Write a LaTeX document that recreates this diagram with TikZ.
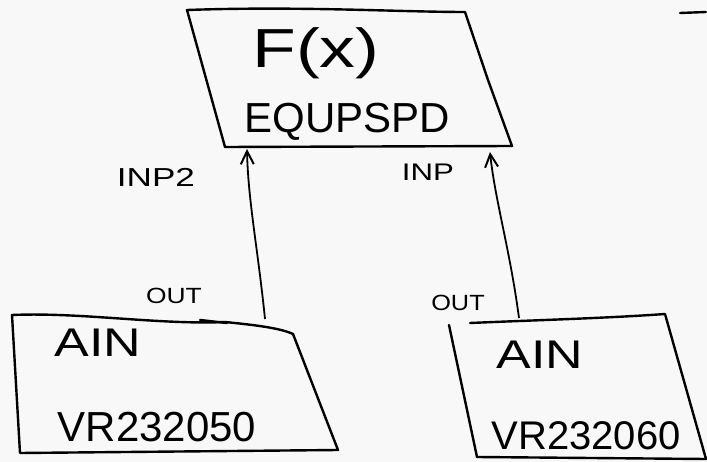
\documentclass[tikz,border=0pt]{standalone}
\usepackage{fontspec}
\setmainfont{Liberation Sans}
\usetikzlibrary{arrows.meta}
\definecolor{paper}{RGB}{248,248,248}
\tikzset{
  boxline/.style={line width=2.4pt, line join=round, line cap=round},
  conn/.style={line width=1.8pt, -{Straight Barb[length=13pt,width=13pt,line width=2pt]}},
  lbl/.style={inner sep=0pt, text=black},
}
\begin{document}
\begin{tikzpicture}[x=1pt,y=-1pt]
\fill[paper] (0,0) rectangle (707,462);
\useasboundingbox (0,0) rectangle (707,462);

% top box F(x)
\draw[boxline] (187,10) .. controls (300,6) and (400,12) .. (465,12)
  -- (488,80) -- (512,146) -- (225,147) -- cycle;
\draw[boxline] (680,13) -- (706,12);
\node[lbl, font=\fontsize{55}{60}\selectfont] (fx) at (316,53) {\scalebox{1.3}[1]{F(x)}};
\node[lbl, font=\fontsize{42}{48}\selectfont] (eq) at (347,122) {EQUPSPD};
\coordinate (inL) at (247,149);
\coordinate (inR) at (490,152);

% left AIN box
\draw[boxline] (12,315) .. controls (80,312) and (160,325) .. (225,322)
  .. controls (255,325) and (280,328) .. (293,334) -- (338,450) -- (20,453) -- cycle;
\draw[boxline] (200,320) -- (227,323);
\node[lbl, font=\fontsize{40}{46}\selectfont] (ainL) at (98,343) {\scalebox{1.3}[1]{AIN}};
\node[lbl, font=\fontsize{42}{48}\selectfont] (vrL) at (157,427) {VR232050};
\coordinate (outL) at (265,319);

% right AIN box
\draw[boxline] (470,323) .. controls (540,320) and (610,318) .. (665,314)
  -- (706,459) -- (477,457);
\draw[boxline] (449,325) -- (477,457);
\node[lbl, font=\fontsize{40}{46}\selectfont] (ainR) at (540,355) {\scalebox{1.3}[1]{AIN}};
\node[lbl, font=\fontsize{40}{46}\selectfont] (vrR) at (586,436) {VR232060};
\coordinate (outR) at (519,318);

% connectors
\draw[conn] (outL) .. controls (258,250) and (248,200) .. (inL);
\draw[conn] (outR) .. controls (510,250) and (495,200) .. (inR);

% port labels
\node[lbl, font=\fontsize{26}{30}\selectfont] (inp2) at (156,177) {\scalebox{1.35}[1]{INP2}};
\node[lbl, font=\fontsize{24}{28}\selectfont] (inp) at (428,172) {\scalebox{1.3}[1]{INP}};
\node[lbl, font=\fontsize{22}{26}\selectfont] (oL) at (174,296) {\scalebox{1.2}[1]{OUT}};
\node[lbl, font=\fontsize{22}{26}\selectfont] (oR) at (458,303) {\scalebox{1.15}[1]{OUT}};
\end{tikzpicture}
\end{document}
